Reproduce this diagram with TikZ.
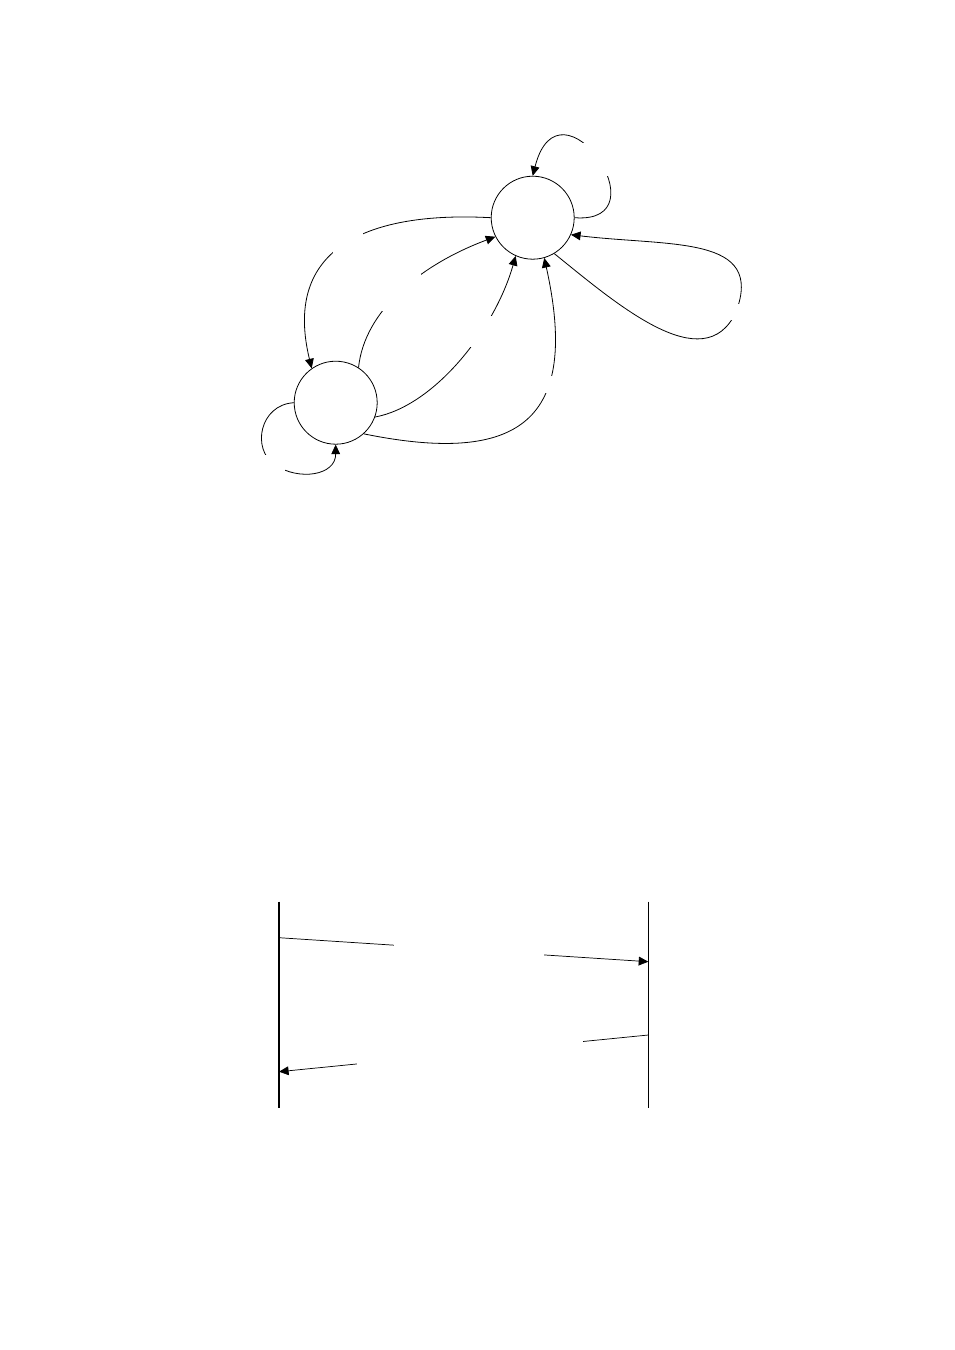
\documentclass[tikz,border=0pt]{standalone}
\usepackage{amsmath}
\usepackage{tikz}
\usetikzlibrary{arrows.meta,calc}
\tikzset{
state/.style = {draw, fill=white, circle, minimum size=18.26mm, inner sep=0pt, line width=0.5pt},
lbl/.style = {fill=white, inner sep=0pt, anchor=center, minimum size=#1},
lblbox/.style 2 args = {fill=white, inner sep=0pt, anchor=center, minimum width=#1, minimum height=#2},
tmp/.style = {coordinate},
edge/.style = {->, line width=0.5pt},
msg/.style = {->, line width=0.45pt}
}
\begin{document}
\begin{tikzpicture}[x=0.22mm, y=-0.22mm, >={Triangle[length=6pt,width=5.5pt]}]
					\path[use as bounding box, fill=white] (0,0) rectangle (954,1350);
					% state diagram
					\node[state] (T) at (532.7,217.7) {};
					\node[state] (B) at (335.7,402.7) {};
					\node[tmp] (g6) at (736,312) {};
					\node[tmp] (g7) at (275,465) {};
					\draw[edge] (T.0) .. controls +(91,7) and +(27,-106) .. node[lbl=7.3mm, pos=0.5] {} (T.90);
					\draw[edge] (T.180) .. controls +(-111,-6) and +(-31,-128) .. node[lbl=6.6mm, pos=0.5] {} (B.125);
					\draw[edge] (B.57) .. controls +(6,-57) and +(-75,28) .. node[lbl=8.6mm, pos=0.5] {} (T.207);
					\draw[edge] (B.340) .. controls +(59,-11) and +(-21,74) .. node[lbl=7.0mm, pos=0.65] {} (T.246);
					\draw[edge] (B.312) .. controls +(157,32) and +(36,162) .. node[lbl=3.7mm, pos=0.66] {} (T.286);
					\draw[edge] (T.301) .. controls +(62,50) and +(-32,68) .. (g6) node[lbl=3.7mm] {} .. controls +(29,-77) and +(100,12) .. (T.336);
					\draw[edge] (B.180) .. controls +(-34,2) and +(-24,-16) .. (g7) node[lbl=4.4mm] {} .. controls +(24,16) and +(0,31) .. (B.270);
					% sequence diagram
					\node[tmp] (Ltop) at (279,901.7) {};
					\node[tmp] (Lbot) at (279,1108.3) {};
					\node[tmp] (Rtop) at (648.3,901.7) {};
					\node[tmp] (Rbot) at (648.3,1108.3) {};
					\node[tmp] (a1) at (279,937.7) {};
					\node[tmp] (a2) at (648.3,961.7) {};
					\node[tmp] (b1) at (648.3,1035) {};
					\node[tmp] (b2) at (279,1071.7) {};
					\draw[line width=1pt] (Ltop) -- (Lbot);
					\draw[line width=0.6pt] (Rtop) -- (Rbot);
					\draw[msg] (a1) -- node[lblbox={33mm}{3.1mm}, pos=0.515] {} (a2);
					\draw[msg] (b1) -- node[lblbox={49.7mm}{5.7mm}, pos=0.484] {} (b2);
				\end{tikzpicture}
\end{document}
